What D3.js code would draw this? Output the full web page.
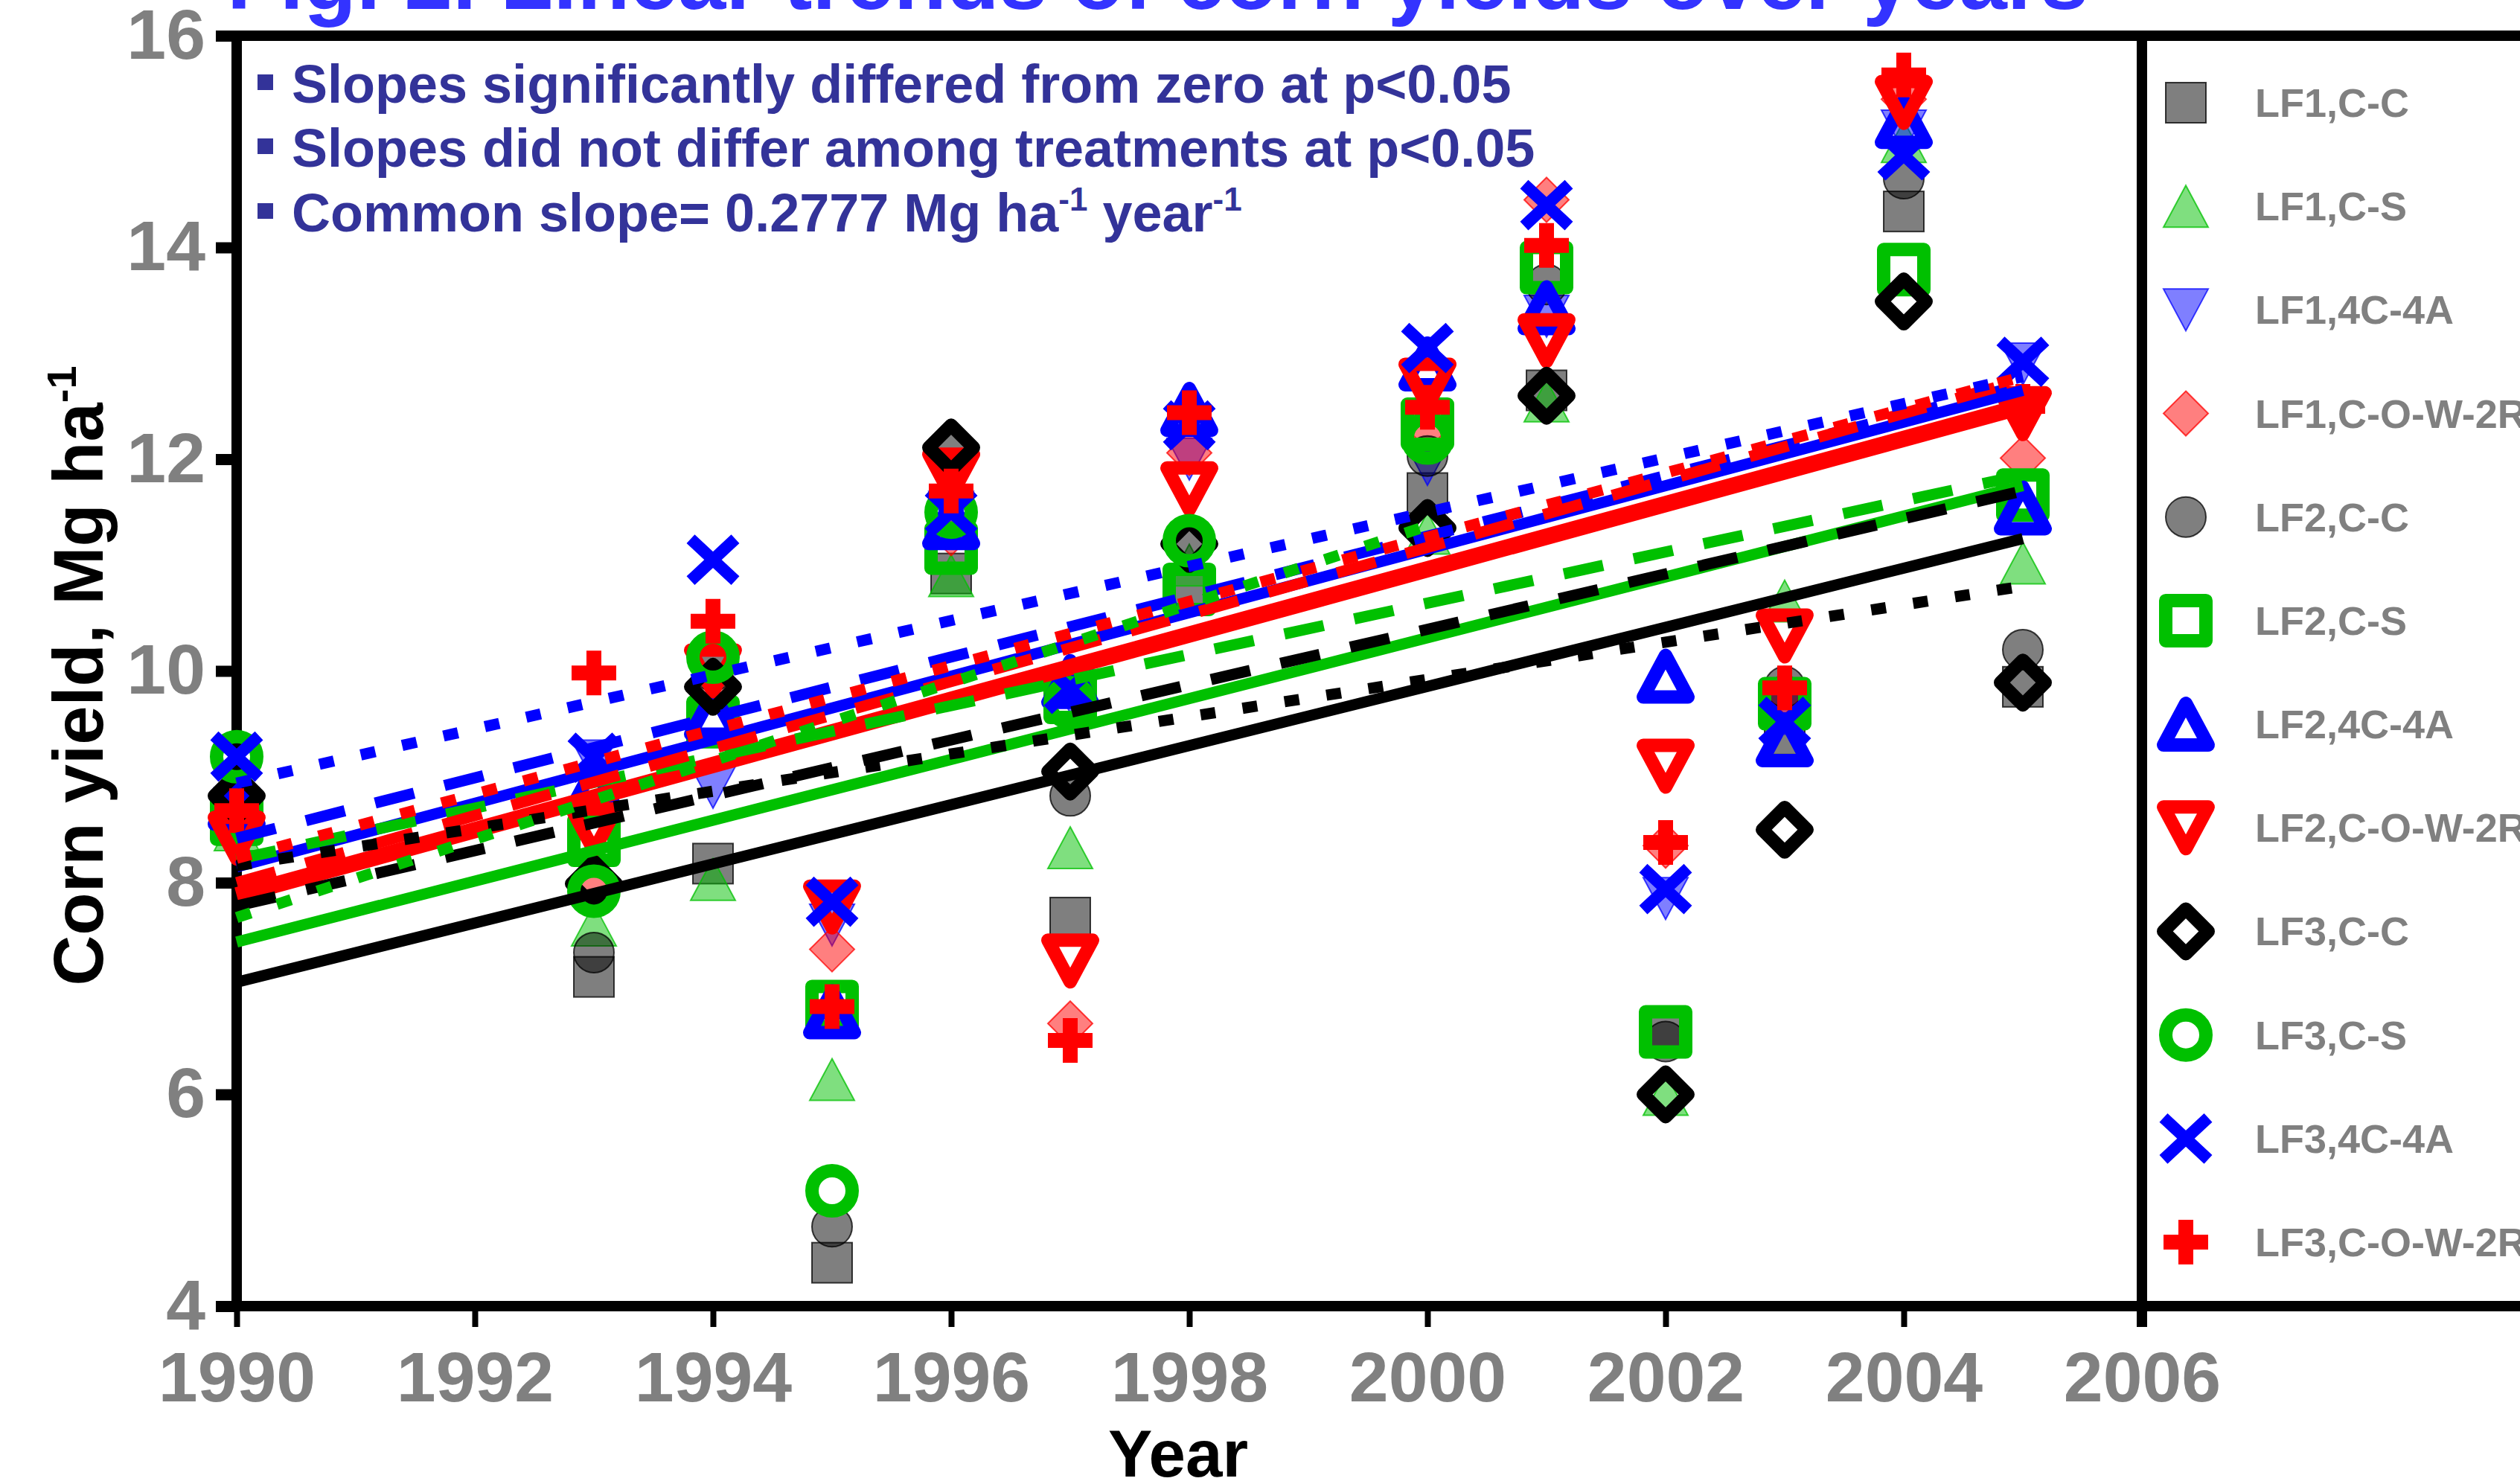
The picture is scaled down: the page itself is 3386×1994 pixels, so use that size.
<!DOCTYPE html>
<html>
<head>
<meta charset="utf-8">
<script src="https://cdn.jsdelivr.net/npm/d3@7"></script>
<style>
  body { margin: 0; background: #fff; }
</style>
</head>
<body>
<div id="chart"></div>
<script>
// years with observations
const years = [1990, 1993, 1994, 1995, 1996, 1997, 1998, 2000, 2001, 2002, 2003, 2004, 2005];

// yields (Mg/ha), null = no point
const lf1CC  = [8.6, 7.11, 8.18, 4.41, 10.92, 7.67, 10.8, 11.68, 12.65, 6.55, 9.4, 14.34, 9.85];
const lf1CS  = [8.5, 7.6, 8.03, 6.14, 10.9, 8.33, 11.0, 11.3, 12.55, 6.0, 10.66, 15.0, 11.02];
const lf14C  = [8.7, 9.15, 8.9, 7.6, 11.5, 9.8, 12.0, 11.95, 13.35, 7.85, 9.6, 15.1, 12.9];
const lf1COW = [8.5, 7.95, 9.8, 7.37, 11.3, 6.67, 12.06, 12.3, 14.45, 8.35, 9.8, 15.4, 12.01];
const lf2CC  = [8.8, 7.34, 10.0, 4.75, 12.1, 8.82, 11.2, 12.03, 13.65, 6.5, 9.85, 14.65, 10.2];
const lf2CS  = [8.6, 8.4, 9.52, 6.83, 11.16, 9.75, 10.77, 12.33, 13.81, 6.59, 9.69, 13.79, 11.66];
const lf24C  = [8.75, 8.9, 9.6, 6.78, 11.4, 9.9, 12.47, 12.9, 13.43, 9.95, 9.35, 15.19, 11.54];
const lf2COW = [8.42, 8.5, 10.0, 7.77, 11.85, 7.26, 11.72, 12.7, 13.12, 9.1, 10.33, 15.37, 12.43];
const lf3CC  = [8.82, 7.99, 9.85, null, 12.11, 9.05, 11.2, 11.35, 12.6, 6.0, 8.5, 13.49, 9.89];
const lf3CS  = [9.19, 7.92, 10.13, 5.09, 11.5, 9.7, 11.23, 12.2, null, null, null, null, null];
const lf34C  = [9.19, 9.18, 11.05, 7.82, 11.5, 9.83, 12.32, 13.05, 14.4, 7.94, 9.52, 14.87, 12.92];
const lf3COW = [8.68, 9.98, 10.47, 6.83, 11.7, 6.51, 12.44, 12.49, 14.02, 8.38, 9.84, 15.63, 12.5];

const seriesNames = ["LF1,C-C", "LF1,C-S", "LF1,4C-4A", "LF1,C-O-W-2R",
                     "LF2,C-C", "LF2,C-S", "LF2,4C-4A", "LF2,C-O-W-2R",
                     "LF3,C-C", "LF3,C-S", "LF3,4C-4A", "LF3,C-O-W-2R"];
const seriesValues = [lf1CC, lf1CS, lf14C, lf1COW, lf2CC, lf2CS, lf24C, lf2COW, lf3CC, lf3CS, lf34C, lf3COW];

// fitted linear trends: value at 1990 and at the last year
const fitStart = [7.06, 7.44, 8.15, 7.88, 7.78, 8.22, 8.42, 8.0, 8.16, 7.67, 8.94, 8.23];
const fitEnd   = [11.25, 11.75, 12.65, 12.5, 11.70, 11.85, 12.7, 12.75, 10.8, 11.37, 12.78, 12.78];
const fitLastYear = [2005, 2005, 2005, 2005, 2005, 2005, 2005, 2005, 2005, 2000, 2005, 2005];

const xTicks = [1990, 1992, 1994, 1996, 1998, 2000, 2002, 2004, 2006];
const yTicks = [4, 6, 8, 10, 12, 14, 16];

const notes = ["Slopes significantly differed from zero at p<0.05",
               "Slopes did not differ among treatments at p<0.05"];

// styles
const green = "#00c000";
const colors = ["#000", green, "#0000ff", "#ff0000"];
const markerKinds = ["square", "tri", "triDown", "diamond",
                     "circle", "oSquare", "oTri", "oTriDown",
                     "oDiamond", "oCircle", "cross", "plus"];
const dashes = [null, "54,42", "20,37"];
const font = "'Liberation Sans', Arial, Helvetica, sans-serif";

const W = 3386, H = 1994;
const x = d3.scaleLinear().domain([1990, 2006]).range([318, 2878]);
const y = d3.scaleLinear().domain([4, 16]).range([1755, 48]);

const svg = d3.select("#chart").append("svg")
    .attr("width", W).attr("height", H)
    .style("font-family", font)
    .style("font-weight", "bold");

// title (partly cut off at the top, as in the figure)
svg.append("text")
    .attr("x", 305).attr("y", 12)
    .attr("font-size", 116)
    .attr("fill", "#3333ff")
    .text("Fig. 2. Linear trends of corn yields over years");

// axes
let yAxis = svg.append("g")
    .attr("transform", "translate(318,0)")
    .call(d3.axisLeft(y).tickValues(yTicks).tickSize(28).tickSizeOuter(0).tickPadding(14).tickFormat(d3.format("d")));
yAxis.select(".domain").remove();
yAxis.attr("font-size", 95).attr("font-family", font);
yAxis.selectAll("line").attr("stroke", "#000").attr("stroke-width", 15);
yAxis.selectAll("text").attr("fill", "#808080");

let xAxis = svg.append("g")
    .attr("transform", "translate(0,1755)")
    .call(d3.axisBottom(x).tickValues(xTicks).tickSize(28).tickSizeOuter(0).tickPadding(33).tickFormat(d3.format("d")));
xAxis.select(".domain").remove();
xAxis.attr("font-size", 95).attr("font-family", font);
xAxis.selectAll("line").attr("stroke", "#000").attr("stroke-width", 8);
xAxis.selectAll("text").attr("fill", "#808080");

// frame
let frame = svg.append("g").attr("stroke", "#000").attr("stroke-width", 14);
frame.append("line").attr("x1", 290).attr("x2", W).attr("y1", y(16)).attr("y2", y(16));
frame.append("line").attr("x1", 290).attr("x2", W).attr("y1", y(4)).attr("y2", y(4));
frame.append("line").attr("x1", x(1990)).attr("x2", x(1990)).attr("y1", 41).attr("y2", 1762);
frame.append("line").attr("x1", x(2006)).attr("x2", x(2006)).attr("y1", 41).attr("y2", 1783);

// draws one marker centred on 0,0
function drawMarker(g, kind, color) {
    let open = kind.startsWith("o");
    let shape;
    if (kind == "square" || kind == "oSquare") {
        shape = g.append("rect").attr("x", -27).attr("y", -27).attr("width", 54).attr("height", 54);
    } else if (kind == "circle" || kind == "oCircle") {
        shape = g.append("circle").attr("r", 27);
    } else if (kind == "tri" || kind == "oTri") {
        shape = g.append("path").attr("d", "M0,-28L30,28L-30,28Z");
    } else if (kind == "triDown" || kind == "oTriDown") {
        shape = g.append("path").attr("d", "M0,28L30,-28L-30,-28Z");
    } else if (kind == "diamond" || kind == "oDiamond") {
        shape = g.append("path").attr("d", "M0,-30L30,0L0,30L-30,0Z");
    } else if (kind == "cross") {
        g.append("path").attr("d", "M-30,-28L30,28M-30,28L30,-28")
            .attr("stroke", color).attr("stroke-width", 16).attr("fill", "none");
        return;
    } else if (kind == "plus") {
        g.append("path").attr("d", "M-10,-30H10V-10H30V10H10V30H-10V10H-30V-10H-10Z")
            .attr("fill", color);
        return;
    }
    if (open) {
        shape.attr("fill", "none").attr("stroke", color)
            .attr("stroke-width", 18).attr("stroke-linejoin", "round");
    } else {
        shape.attr("fill", color).attr("fill-opacity", 0.5)
            .attr("stroke", color).attr("stroke-width", 2).attr("stroke-opacity", 0.75);
    }
}

// points
let pointsG = svg.append("g");
seriesValues.forEach((vals, i) => {
    let color = colors[i % 4];
    let pts = years.map((yr, j) => ({ yr: yr, v: vals[j] })).filter(d => d.v != null);
    pointsG.append("g").selectAll("g")
        .data(pts)
        .enter().append("g")
        .attr("transform", d => "translate(" + x(d.yr) + "," + y(d.v) + ")")
        .each(function () { drawMarker(d3.select(this), markerKinds[i], color); });
});

// trend lines
let linesG = svg.append("g");
seriesNames.forEach((name, i) => {
    let ends = [{ yr: 1990, v: fitStart[i] }, { yr: fitLastYear[i], v: fitEnd[i] }];
    let line = d3.line().x(d => x(d.yr)).y(d => y(d.v));
    let lev = Math.floor(i / 4);
    linesG.append("path")
        .datum(ends)
        .attr("d", line)
        .attr("fill", "none")
        .attr("stroke", colors[i % 4])
        .attr("stroke-width", i == 3 ? 22 : 15)
        .attr("stroke-dasharray", dashes[lev]);
});

// notes in the plot
let notesG = svg.append("g").attr("fill", "#333399").attr("font-size", 72);
let noteY = [138, 224, 311];
noteY.forEach((ny) => {
    notesG.append("rect").attr("x", 346).attr("y", ny - 38).attr("width", 21).attr("height", 21);
});
notes.forEach((t, i) => {
    notesG.append("text").attr("x", 392).attr("y", noteY[i]).text(t);
});
let n3 = notesG.append("text").attr("x", 392).attr("y", noteY[2]);
n3.append("tspan").text("Common slope= 0.2777 Mg ha");
n3.append("tspan").attr("font-size", 44).attr("dy", -28).text("-1");
n3.append("tspan").attr("dy", 28).text(" year");
n3.append("tspan").attr("font-size", 44).attr("dy", -28).text("-1");

// axis titles
let yTitle = svg.append("text")
    .attr("transform", "translate(138,908) rotate(-90)")
    .attr("text-anchor", "middle")
    .attr("font-size", 94)
    .attr("fill", "#000");
yTitle.append("tspan").text("Corn yield, Mg ha");
yTitle.append("tspan").attr("font-size", 56).attr("dy", -36).text("-1");

svg.append("text")
    .attr("x", 1583).attr("y", 1984)
    .attr("text-anchor", "middle")
    .attr("font-size", 89)
    .attr("fill", "#000")
    .text("Year");

// legend
let ly = d3.scalePoint().domain(seriesNames).range([138, 1669]);
let legend = svg.append("g");
seriesNames.forEach((name, i) => {
    let item = legend.append("g").attr("transform", "translate(0," + ly(name) + ")");
    let m = item.append("g").attr("transform", "translate(2937,0)");
    drawMarker(m, markerKinds[i], colors[i % 4]);
    item.append("text")
        .attr("x", 3030).attr("y", 19)
        .attr("font-size", 54)
        .attr("fill", "#808080")
        .text(name);
});
</script>
</body>
</html>
